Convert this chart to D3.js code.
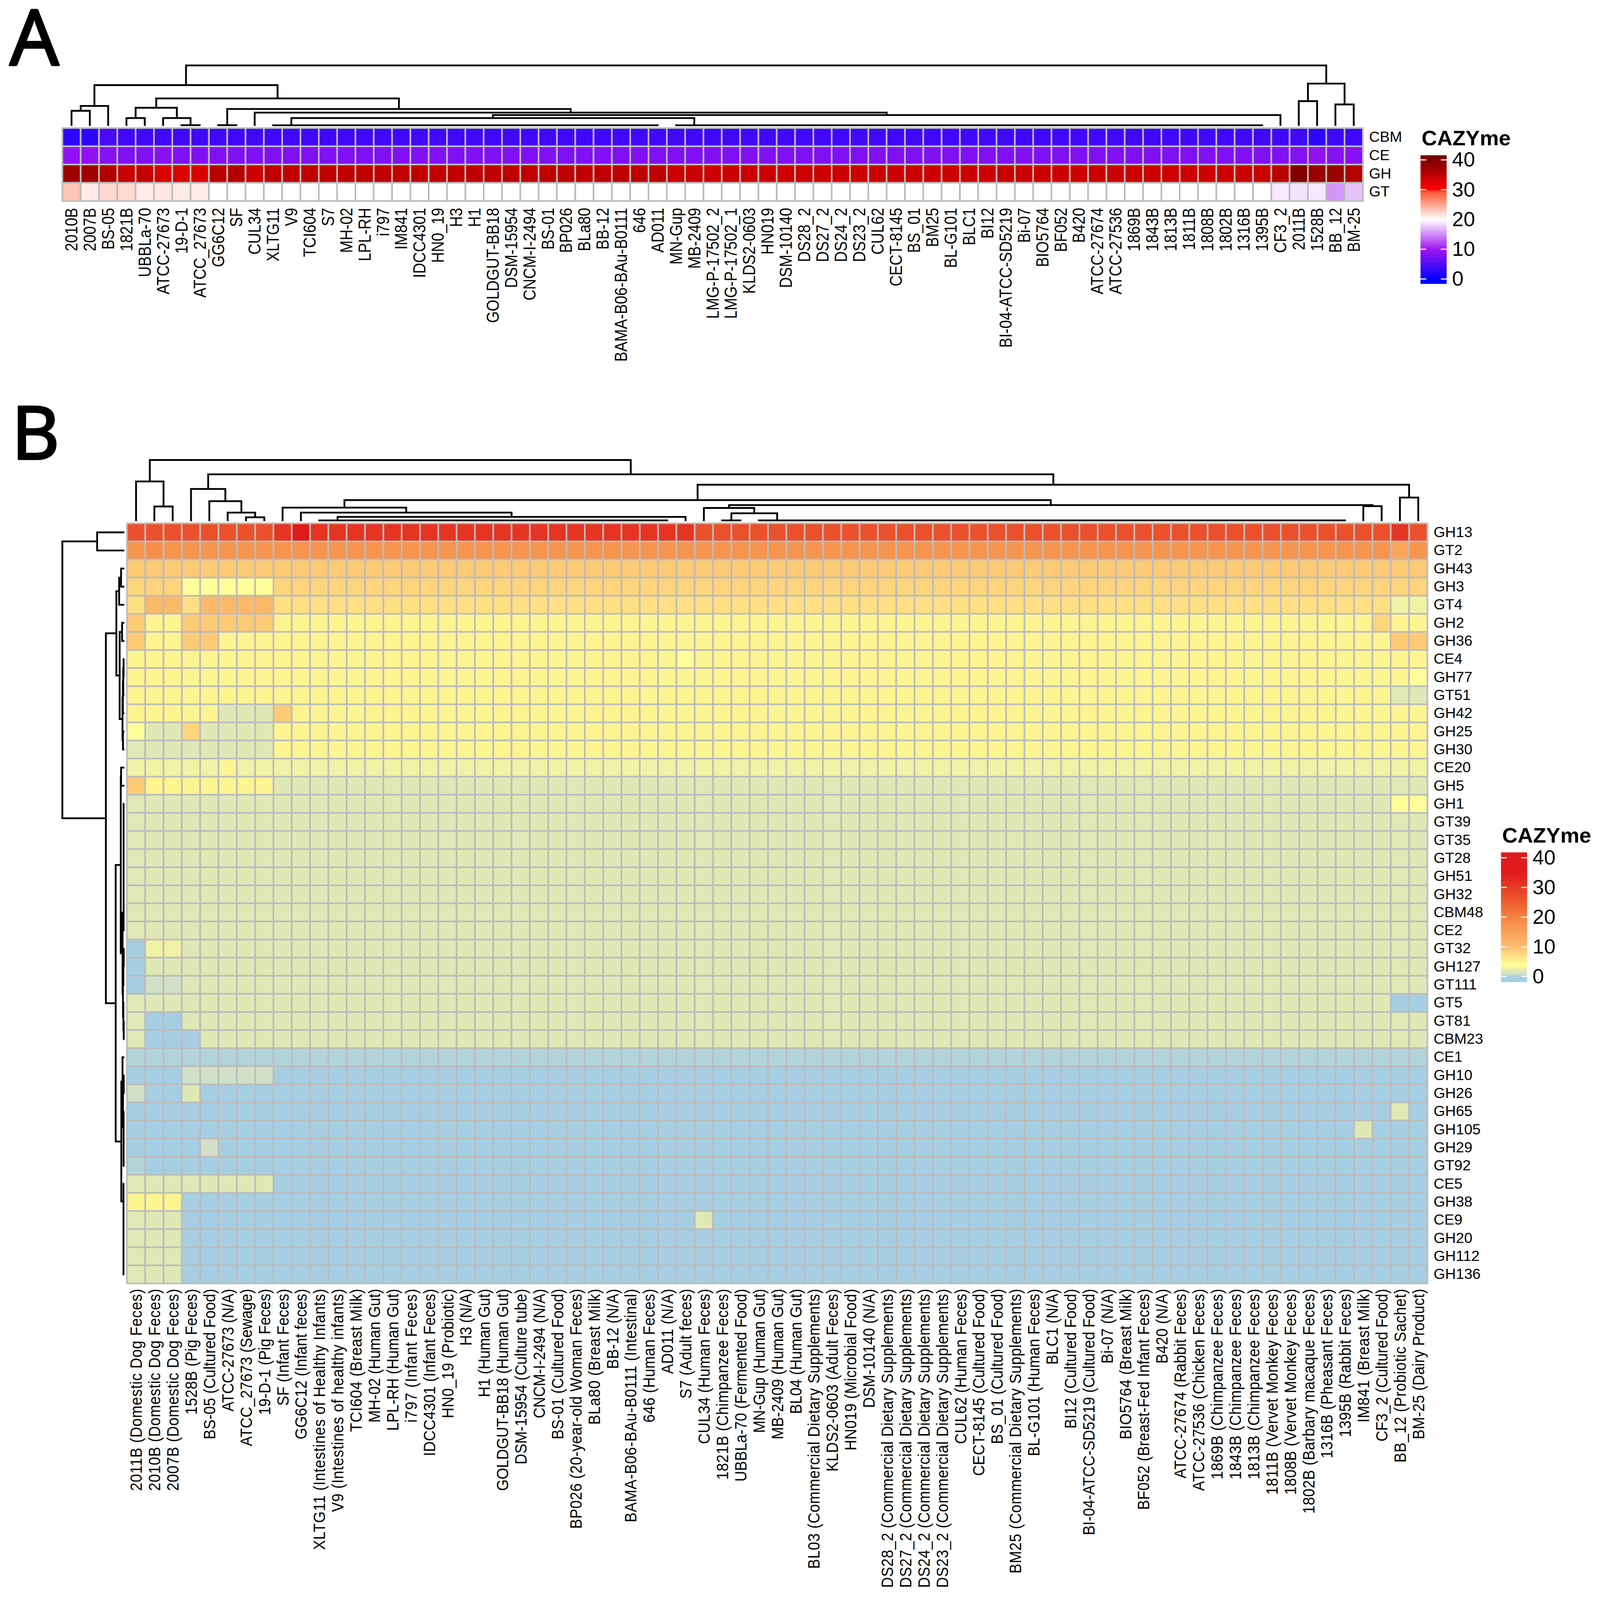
<!DOCTYPE html>
<meta charset="utf-8">
<style>

html, body {
  margin: 0;
  height: 100%;
  background: #fff;
  overflow: hidden;
}

text {
  font-family: "Liberation Sans", sans-serif;
  fill: #000;
}

</style>
<body>
<script src="https://d3js.org/d3.v7.min.js"></script>
<script>

var width = 4413,
    height = 4473;

// panel A
var colsA = ["2010B","2007B","BS-05","1821B","UBBLa-70","ATCC-27673","19-D-1","ATCC_27673","GG6C12","SF","CUL34","XLTG11","V9","TCI604","S7","MH-02","LPL-RH","i797","IM841","IDCC4301","HN0_19","H3","H1","GOLDGUT-BB18","DSM-15954","CNCM-I-2494","BS-01","BP026","BLa80","BB-12","BAMA-B06-BAu-B0111","646","AD011","MN-Gup","MB-2409","LMG-P-17502_2","LMG-P-17502_1","KLDS2-0603","HN019","DSM-10140","DS28_2","DS27_2","DS24_2","DS23_2","CUL62","CECT-8145","BS_01","BM25","BL-G101","BLC1","BI12","BI-04-ATCC-SD5219","Bi-07","BIO5764","BF052","B420","ATCC-27674","ATCC-27536","1869B","1843B","1813B","1811B","1808B","1802B","1316B","1395B","CF3_2","2011B","1528B","BB_12","BM-25"];
var rowsA = ["CBM","CE","GH","GT"];

// value runs per row: [value, how many columns]
var cbmA = [[3,2],[4.5,1],[4,65],[3,1],[4,2]];
var ceA = [[9,2],[8.5,1],[8,2],[8.5,1],[8,61],[8.3,1],[9,1],[8.5,2]];
var ghA = [[37.6,1],[37.5,1],[36,1],[34.3,1],[34.6,1],[33,1],[32.9,1],[32.8,1],[35.6,1],[35.8,1],[34,1],[35,22],[34,33],[35.5,1],[40,1],[38,1],[37.9,1],[35.9,1]];
var gtA = [[23.3,1],[21.2,1],[22.2,2],[21.2,1],[21.3,1],[21.2,2],[20,58],[19,1],[18.8,1],[19,1],[15.5,1],[17.4,1]];
var runsA = [cbmA, ceA, ghA, gtA];

// [height, left, right], 0 is a leaf, comb() is a run of nearly equal merges
var treeA = [100,
  [67.5,
    [33, [25,0,0], 0],
    [45.5,
      [30, [13,0,0], [13,0,[1.2,0,0]]],
      [28, [1.2,0,0], [22, 0, [18, [13, comb(22,1), comb(33,1)], 0]]]]],
  [70, [41,0,0], [35.5,0,0]]];

var stopsA = [0, 10, 20, 29.5, 30, 40, 42];
var coloursA = ["#0000ff","#a014f0","#ffffff","#ff5530","#ff0000","#800000","#700000"];

// panel B
var colsB = ["2011B (Domestic Dog Feces)","2010B (Domestic Dog Feces)","2007B (Domestic Dog Feces)","1528B (Pig Feces)","BS-05 (Cultured Food)","ATCC-27673 (N/A)","ATCC_27673 (Sewage)","19-D-1 (Pig Feces)","SF (Infant Feces)","GG6C12 (Infant feces)","XLTG11 (Intestines of Healthy Infants)","V9 (Intestines of healthy infants)","TCI604 (Breast Milk)","MH-02 (Human Gut)","LPL-RH (Human Gut)","i797 (Infant Feces)","IDCC4301 (Infant Feces)","HN0_19 (Probiotic)","H3 (N/A)","H1 (Human Gut)","GOLDGUT-BB18 (Human Gut)","DSM-15954 (Culture tube)","CNCM-I-2494 (N/A)","BS-01 (Cultured Food)","BP026 (20-year-old Woman Feces)","BLa80 (Breast Milk)","BB-12 (N/A)","BAMA-B06-BAu-B0111 (Intestinal)","646 (Human Feces)","AD011 (N/A)","S7 (Adult feces)","CUL34 (Human Feces)","1821B (Chimpanzee Feces)","UBBLa-70 (Fermented Food)","MN-Gup (Human Gut)","MB-2409 (Human Gut)","BL04 (Human Gut)","BL03 (Commercial Dietary Supplements)","KLDS2-0603 (Adult Feces)","HN019 (Microbial Food)","DSM-10140 (N/A)","DS28_2 (Commercial Dietary Supplements)","DS27_2 (Commercial Dietary Supplements)","DS24_2 (Commercial Dietary Supplements)","DS23_2 (Commercial Dietary Supplements)","CUL62 (Human Feces)","CECT-8145 (Cultured Food)","BS_01 (Cultured Food)","BM25 (Commercial Dietary Supplements)","BL-G101 (Human Feces)","BLC1 (N/A)","BI12 (Cultured Food)","BI-04-ATCC-SD5219 (Cultured Food)","Bi-07 (N/A)","BIO5764 (Breast Milk)","BF052 (Breast-Fed Infant Feces)","B420 (N/A)","ATCC-27674 (Rabbit Feces)","ATCC-27536 (Chicken Feces)","1869B (Chimpanzee Feces)","1843B (Chimpanzee Feces)","1813B (Chimpanzee Feces)","1811B (Vervet Monkey Feces)","1808B (Vervet Monkey Feces)","1802B (Barbary macaque Feces)","1316B (Pheasant Feces)","1395B (Rabbit Feces)","IM841 (Breast Milk)","CF3_2 (Cultured Food)","BB_12 (Probiotic Sachet)","BM-25 (Dairy Product)"];
var rowsB = ["GH13","GT2","GH43","GH3","GT4","GH2","GH36","CE4","GH77","GT51","GH42","GH25","GH30","CE20","GH5","GH1","GT39","GT35","GT28","GH51","GH32","CBM48","CE2","GT32","GH127","GT111","GT5","GT81","CBM23","CE1","GH10","GH26","GH65","GH105","GH29","GT92","CE5","GH38","CE9","GH20","GH112","GH136"];

// the source set these labels with uneven tracking, so each gets its own run length
var labelLengthsB = [565,565,565,352,421,343,440,353,327,421,730,624,400,374,397,374,468,362,159,303,565,491,362,421,671,380,224,653,374,238,307,434,534,539,403,421,350,783,511,452,333,836,836,836,836,434,523,434,796,468,212,391,689,209,421,618,209,530,565,533,533,533,576,576,629,474,415,374,427,486,421];

var runsB = [
  [[27,8],[31,1],[35,1],[31,21],[27,38],[31,1],[27,1]],
  [[17,1],[18,1],[17,67],[14,1],[17,1]],
  [[9,71]],
  [[8,3],[4,5],[8,63]],
  [[7,1],[11,2],[7,1],[11,4],[7,61],[3,2]],
  [[9,1],[5,2],[9,5],[5,60],[8,1],[5,2]],
  [[9,1],[5,2],[9,2],[5,64],[9,2]],
  [[5,30],[4,1],[5,40]],
  [[5,70],[4,1]],
  [[5,69],[2,2]],
  [[5,5],[2,3],[9,1],[5,62]],
  [[4,1],[2,2],[8,1],[2,4],[5,63]],
  [[2,8],[5,63]],
  [[3,5],[5,1],[3,65]],
  [[9,1],[5,7],[2,63]],
  [[2,69],[4,2]],
  [[2,71]],
  [[2,71]],
  [[2,71]],
  [[2,71]],
  [[2,71]],
  [[2,71]],
  [[2,71]],
  [[0,1],[3,2],[2,68]],
  [[0,1],[2,70]],
  [[0,1],[1,2],[2,68]],
  [[2,69],[0,2]],
  [[2,1],[0,2],[2,68]],
  [[2,1],[0,3],[2,67]],
  [[0.3,71]],
  [[0,3],[1,5],[0,63]],
  [[1,1],[0,2],[2,1],[0,67]],
  [[0,69],[2,1],[0,1]],
  [[0,67],[2,1],[0,3]],
  [[0,4],[1,1],[0,66]],
  [[0.3,1],[0,70]],
  [[2,8],[0,63]],
  [[5,3],[0,68]],
  [[2,3],[0,28],[2,1],[0,39]],
  [[2,3],[0,68]],
  [[2,3],[0,68]],
  [[2,3],[0,68]]
];

var colTreeB = [100,
  [65, 0, [24,0,0]],
  [76.6,
    [52.6, 0, [32.7, 0, [14, 0, [6.4,0,0]]]],
    [59.6,
      [34.5,
        [22.2, 0, [14, 0, [7, comb(20,1.2), 0]]],
        [26.3,
          [21.6, 0, [12.9, [1.2,0,0], comb(33,1.2)]],
          [24.6,0,0]]],
      [38.6,0,0]]]];

var rowTreeB = [100,
  [43.9,0,0],
  [29.8,
    [12.9,
      [8.4, [5.3,0,0], 0],
      [7.6, [3.7,0,0], [3, [2.4, [1.8, [1.2,0,0], 0], 0], [2.2,0,0]]]],
    [14,
      [5.8,
        [5.3,0,0],
        [2.9, combUp(8,1.2), [2.2, [1.6, [1,0,0], 0], [1.6, 0, [1,0,0]]]]],
      [4.9,
        [3, 0, [2.2, [1,0,0], comb(4,1.2)]],
        comb(6,1.4)]]]];

var stopsB = [0, 1, 2, 3, 4, 10, 20, 30, 35, 42];
var coloursB = ["#a6cee3","#d2e0c8","#e0e9b5","#f1f2a5","#ffff99","#fdbf6f","#f5823f","#e73a24","#e01a1a","#e01a1a"];

var legendTicks = [0, 10, 20, 30, 40];

function comb(n, h) {
  return n == 1 ? 0 : [h, 0, comb(n - 1, h)];
}

function combUp(n, h) {
  return n == 1 ? 0 : [h, combUp(n - 1, h), 0];
}

function expand(runs) {
  var out = [];
  runs.forEach(function(r) {
    for (var i = 0; i < r[1]; i++) out.push(r[0]);
  });
  return out;
}

// the viewBox keeps the whole chart inside whatever window the page gets
var svg = d3.select("body").append("svg")
    .attr("viewBox", "0 0 " + width + " " + height)
    .attr("preserveAspectRatio", "none")
    .style("display", "block")
    .style("width", "100%")
    .style("height", "100%");

// panel letters, regular weight thickened a little with a stroke
svg.selectAll(".letter")
    .data([["A", 27, 181, 214], ["B", 32, 1283, 204]])
  .enter().append("text")
    .attr("class", "letter")
    .attr("x", function(d) { return d[1]; })
    .attr("y", function(d) { return d[2]; })
    .attr("font-size", function(d) { return d[3]; })
    .attr("stroke", "#000")
    .attr("stroke-width", 6)
    .attr("stroke-linejoin", "round")
    .style("font-family", "'Open Sans'")
    .text(function(d) { return d[0]; });

function heatmap(o) {
  var x = d3.scaleBand().domain(o.cols).range([o.left, o.right]),
      y = d3.scaleBand().domain(o.rows).range([o.top, o.bottom]),
      colour = d3.scaleLinear().domain(o.stops).range(o.colours).clamp(true);

  var cells = [];
  o.runs.forEach(function(runs, r) {
    expand(runs).forEach(function(v, c) {
      cells.push({row: o.rows[r], col: o.cols[c], value: v});
    });
  });

  svg.append("g").selectAll("rect")
      .data(cells)
    .enter().append("rect")
      .attr("x", function(d) { return x(d.col); })
      .attr("y", function(d) { return y(d.row); })
      .attr("width", x.bandwidth())
      .attr("height", y.bandwidth())
      .attr("fill", function(d) { return colour(d.value); })
      .attr("stroke", "#bcbcbc")
      .attr("stroke-width", 4.5);

  // sample labels read upwards from just under the cells
  var bottomAxis = svg.append("g")
      .attr("transform", "translate(0," + o.labelY + ")")
      .call(d3.axisBottom(x).tickSize(0));
  bottomAxis.select(".domain").remove();
  var colLabels = bottomAxis.selectAll("text")
      .attr("font-size", o.colSize)
      .attr("x", 0).attr("y", 0).attr("dy", "0.35em")
      .attr("text-anchor", "end")
      .attr("transform", "rotate(-90) scale(1," + o.colStretch + ")");
  if (o.colLengths) {
    colLabels
        .attr("textLength", function(d) { return o.colLengths[o.cols.indexOf(d)]; })
        .attr("lengthAdjust", "spacing");
  }

  var rightAxis = svg.append("g")
      .attr("transform", "translate(" + o.labelX + ",0)")
      .call(d3.axisRight(y).tickSize(0).tickPadding(0));
  rightAxis.select(".domain").remove();
  rightAxis.selectAll("text")
      .attr("font-size", 41);

  // legend
  var scale = d3.scaleLinear().domain([0, 40]).range(o.legendRange);
  var low = scale.invert(o.legendBottom),
      high = scale.invert(o.legendTop);
  svg.append("g").selectAll("rect")
      .data(d3.range(100))
    .enter().append("rect")
      .attr("x", o.legendX)
      .attr("width", o.legendWidth)
      .attr("y", function(i) { return scale(low + (high - low) * (i + 1) / 100); })
      .attr("height", (o.legendBottom - o.legendTop) / 100 + 0.6)
      .attr("fill", function(i) { return colour(low + (high - low) * (i + 0.5) / 100); });

  var dashes = svg.append("g");
  dashes.selectAll(".dash")
      .data(legendTicks.concat(legendTicks))
    .enter().append("rect")
      .attr("x", function(d, i) { return i < 5 ? o.legendX : o.legendX + o.legendWidth - 16; })
      .attr("y", function(d) { return scale(d) - 1.5; })
      .attr("width", 16)
      .attr("height", 3)
      .attr("fill", "#fff");

  var legendAxis = svg.append("g")
      .attr("transform", "translate(" + (o.legendX + o.legendWidth) + ",0)")
      .call(d3.axisRight(scale).tickValues(legendTicks).tickSize(0).tickPadding(15));
  legendAxis.select(".domain").remove();
  legendAxis.selectAll("text")
      .attr("font-size", 57);

  svg.append("text")
      .attr("x", o.legendX + 3)
      .attr("y", o.titleY)
      .attr("font-size", 59)
      .attr("font-weight", "bold")
      .text("CAZYme");

  return {x: x, y: y};
}

// walks a [height, left, right] tree, leaves taken in order, and draws one bracket per merge
function dendrogram(tree, leaves, pos, hgt, flip) {
  var path = d3.path(),
      next = 0;

  function move(p, h) {
    if (flip) path.moveTo(hgt(h), p); else path.moveTo(p, hgt(h));
  }
  function line(p, h) {
    if (flip) path.lineTo(hgt(h), p); else path.lineTo(p, hgt(h));
  }
  function walk(node) {
    if (!node) {
      var leaf = leaves[next++];
      return {p: pos(leaf) + pos.bandwidth() / 2, h: 0};
    }
    var a = walk(node[1]),
        b = walk(node[2]);
    move(a.p, a.h);
    line(a.p, node[0]);
    line(b.p, node[0]);
    line(b.p, b.h);
    return {p: (a.p + b.p) / 2, h: node[0]};
  }
  walk(tree);

  svg.append("path")
      .attr("d", path.toString())
      .attr("fill", "none")
      .attr("stroke", "#000")
      .attr("stroke-width", 5);
}

var a = heatmap({
  cols: colsA, rows: rowsA, runs: runsA, stops: stopsA, colours: coloursA,
  left: 172, right: 3759, top: 358, bottom: 562,
  labelY: 581, labelX: 3776, colSize: 42, colStretch: 1.12,
  legendX: 3918, legendWidth: 72, legendTop: 434, legendBottom: 793,
  legendRange: [780, 447], titleY: 406
});

dendrogram(treeA, colsA, a.x, d3.scaleLinear().domain([0, 100]).range([352, 183]), false);

var b = heatmap({
  cols: colsB, rows: rowsB, runs: runsB, stops: stopsB, colours: coloursB,
  left: 350, right: 3937, top: 1463, bottom: 3588,
  labelY: 3603, labelX: 3954, colSize: 41.5, colStretch: 1.12, colLengths: labelLengthsB,
  legendX: 4140, legendWidth: 72, legendTop: 2383, legendBottom: 2745,
  legendRange: [2730, 2398], titleY: 2356
});

dendrogram(colTreeB, colsB, b.x, d3.scaleLinear().domain([0, 100]).range([1457, 1286]), false);
dendrogram(rowTreeB, rowsB, b.y, d3.scaleLinear().domain([0, 100]).range([343, 172]), true);

</script>
